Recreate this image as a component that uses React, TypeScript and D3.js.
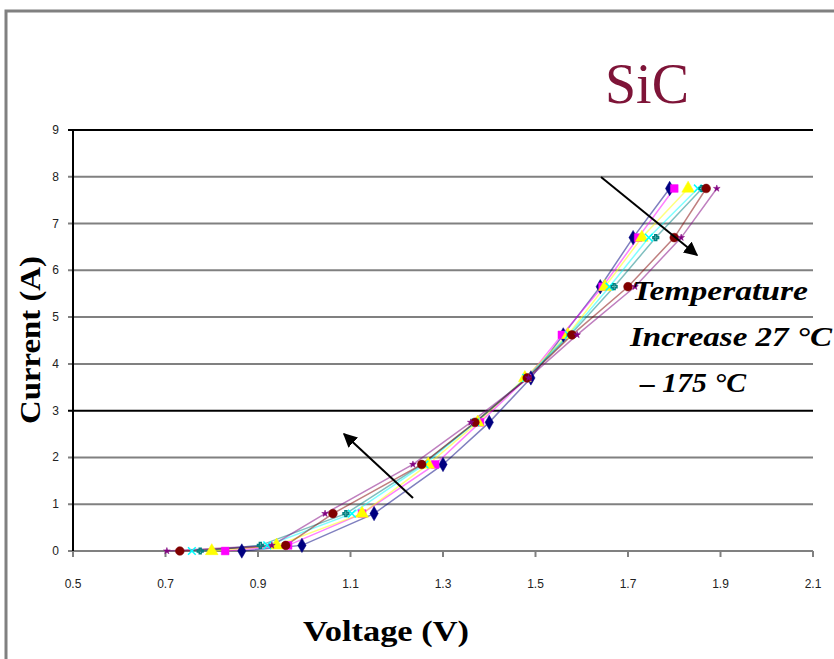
import React from "react";
import * as d3 from "d3";

// Forward I-V characteristics of a SiC diode at several temperatures
const temperatures = ["27 °C", "50 °C", "75 °C", "100 °C", "125 °C", "150 °C", "175 °C"];
const currents = [0, 0.12, 0.8, 1.85, 2.75, 3.7, 4.62, 5.65, 6.7, 7.75];

const vNavy = [0.865, 0.995, 1.151, 1.3, 1.4, 1.49, 1.56, 1.64, 1.711, 1.79];
const vMagenta = [0.829, 0.965, 1.125, 1.283, 1.38, 1.482, 1.557, 1.645, 1.722, 1.8];
const vYellow = [0.8, 0.94, 1.125, 1.268, 1.375, 1.477, 1.57, 1.65, 1.73, 1.83];
const vCyan = [0.757, 0.92, 1.103, 1.26, 1.37, 1.48, 1.572, 1.66, 1.745, 1.851];
const vTeal = [0.775, 0.905, 1.09, 1.255, 1.37, 1.482, 1.575, 1.67, 1.76, 1.86];
const vMaroon = [0.731, 0.96, 1.062, 1.254, 1.369, 1.482, 1.579, 1.7, 1.8, 1.869];
const vPurple = [0.703, 0.93, 1.045, 1.235, 1.36, 1.485, 1.59, 1.715, 1.815, 1.892];

const seriesVoltages = [vNavy, vMagenta, vYellow, vCyan, vTeal, vMaroon, vPurple];
const seriesColors = ["#000080", "#ff00ff", "#ffff00", "#00ffff", "#008080", "#800000", "#800080"];
const seriesSymbols = [d3.symbolDiamond, d3.symbolSquare, d3.symbolTriangle, d3.symbolTimes, d3.symbolCross, d3.symbolCircle, d3.symbolStar];
const seriesMarkerSizes = [60, 60, 70, 40, 18, 60, 14];

const xTicks = [0.5, 0.7, 0.9, 1.1, 1.3, 1.5, 1.7, 1.9, 2.1];
const yTicks = [0, 1, 2, 3, 4, 5, 6, 7, 8, 9];
const darkGridValues = [3, 9];

const W = 834;
const H = 659;

export default function App() {
  const x = d3.scaleLinear().domain([0.5, 2.1]).range([73, 813]);
  const y = d3.scaleLinear().domain([0, 9]).range([551, 130]);
  const line = d3
    .line<[number, number]>()
    .x((d) => x(d[0]))
    .y((d) => y(d[1]));

  const series = seriesVoltages.map((vs, i) => ({
    name: temperatures[i],
    color: seriesColors[i],
    symbol: seriesSymbols[i],
    size: seriesMarkerSizes[i],
    pts: vs.map((v, k) => [v, currents[k]] as [number, number]),
  }));

  const serif = "'Liberation Serif', 'DejaVu Serif', serif";
  const sans = "'Liberation Sans', Arial, sans-serif";

  return (
    <svg
      width={W}
      height={H}
      style={{ position: "absolute", left: 0, top: 0, background: "#fff" }}
    >
      <defs>
        <marker id="ah" viewBox="0 0 10 10" refX="9" refY="5" markerWidth="7" markerHeight="7" orient="auto">
          <path d="M0,0 L10,5 L0,10 z" fill="#000" />
        </marker>
      </defs>
      {/* chart frame */}
      <rect x={6} y={11} width={W + 20} height={H + 20} fill="none" stroke="#808080" strokeWidth={3} />

      {/* title */}
      <text x={647} y={103} textAnchor="middle" fontFamily={serif} fontSize={56} fill="#7e1438" textLength={84} lengthAdjust="spacingAndGlyphs">
        SiC
      </text>

      {/* horizontal gridlines */}
      {yTicks.map((t) => (
        <line
          key={"g" + t}
          x1={68}
          x2={813}
          y1={y(t)}
          y2={y(t)}
          stroke={darkGridValues.includes(t) ? "#000" : "#808080"}
          strokeWidth={2}
        />
      ))}
      {/* y axis */}
      <line x1={x(0.5)} x2={x(0.5)} y1={y(9)} y2={556} stroke="#000" strokeWidth={2} />
      {/* x ticks */}
      {xTicks.map((t) => (
        <line key={"xt" + t} x1={x(t)} x2={x(t)} y1={y(0)} y2={y(0) + 6} stroke="#808080" strokeWidth={2} />
      ))}
      {/* tick labels */}
      {yTicks.map((t) => (
        <text key={"yl" + t} x={59} y={y(t) + 4} textAnchor="end" fontFamily={sans} fontSize={12} fill="#222">
          {t}
        </text>
      ))}
      {xTicks.map((t) => (
        <text key={"xl" + t} x={x(t)} y={588} textAnchor="middle" fontFamily={sans} fontSize={12} fill="#222">
          {t.toFixed(1)}
        </text>
      ))}

      {/* axis titles */}
      <text x={386} y={641} textAnchor="middle" fontFamily={serif} fontWeight="bold" fontSize={29} fill="#000" textLength={166} lengthAdjust="spacingAndGlyphs">
        Voltage (V)
      </text>
      <text
        transform="translate(40,340) rotate(-90)"
        textAnchor="middle"
        fontFamily={serif}
        fontWeight="bold"
        fontSize={29}
        fill="#000"
        textLength={168}
        lengthAdjust="spacingAndGlyphs"
      >
        Current (A)
      </text>

      {/* series lines */}
      {series.map((s) => (
        <path key={"l" + s.name} d={line(s.pts) || ""} fill="none" stroke={s.color} strokeWidth={1.5} strokeOpacity={0.5} />
      ))}
      {/* series markers */}
      {series.map((s) =>
        s.pts.map((p, k) => {
          const open = s.symbol === d3.symbolTimes || s.symbol === d3.symbolCross;
          return (
            <path
              key={"m" + s.name + k}
              d={d3.symbol().type(s.symbol).size(s.size)() || ""}
              transform={`translate(${x(p[0])},${y(p[1])})`}
              fill={open ? "none" : s.color}
              stroke={s.color}
              strokeWidth={open ? 1.5 : 0.5}
            />
          );
        })
      )}

      {/* temperature trend arrows */}
      <line x1={601} y1={177} x2={697} y2={255} stroke="#000" strokeWidth={2} markerEnd="url(#ah)" />
      <line x1={413} y1={498} x2={344} y2={434} stroke="#000" strokeWidth={2} markerEnd="url(#ah)" />

      {/* annotation */}
      <g fontFamily={serif} fontWeight="bold" fontStyle="italic" fontSize={28} fill="#000">
        <text x={632} y={300} textLength={176} lengthAdjust="spacingAndGlyphs">Temperature</text>
        <text x={630} y={346} textLength={202} lengthAdjust="spacingAndGlyphs">Increase 27 °C</text>
        <text x={640} y={392} textLength={106} lengthAdjust="spacingAndGlyphs">– 175 °C</text>
      </g>
    </svg>
  );
}
